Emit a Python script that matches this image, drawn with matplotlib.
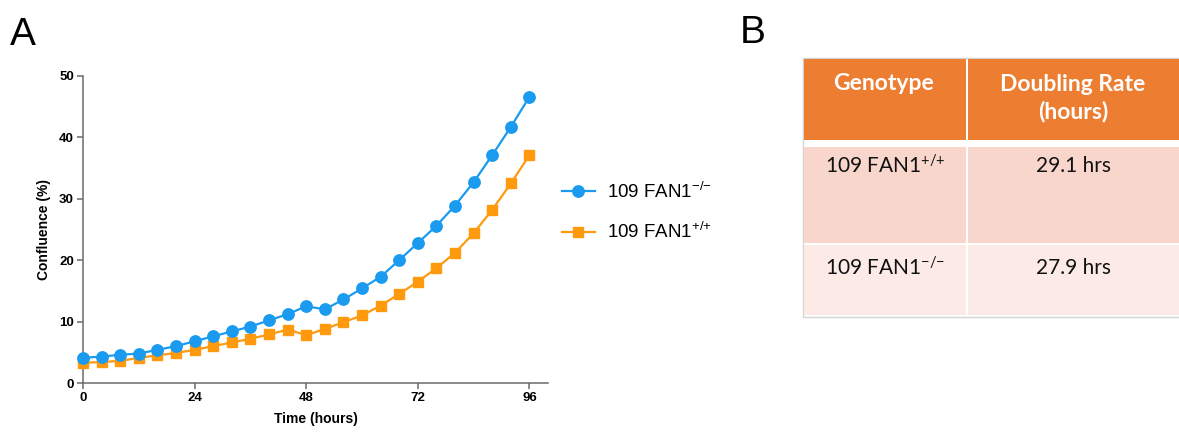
import matplotlib
matplotlib.use("Agg")
import matplotlib.pyplot as plt
from matplotlib.patches import Rectangle

plt.rcParams['font.family'] = ['Liberation Sans', 'DejaVu Sans']
plt.rcParams['mathtext.fontset'] = 'custom'
plt.rcParams['mathtext.rm'] = 'Liberation Sans'
plt.rcParams['mathtext.it'] = 'Liberation Sans:italic'
plt.rcParams['mathtext.bf'] = 'Liberation Sans:bold'

# ---- data ----
time_hours = [0, 4, 8, 12, 16, 20, 24, 28, 32, 36, 40, 44, 48, 52, 56, 60, 64, 68, 72, 76, 80, 84, 88, 92, 96]
ko_confluence = [4.1, 4.3, 4.6, 4.8, 5.4, 6.0, 6.8, 7.6, 8.4, 9.2, 10.2, 11.2, 12.5, 12.0, 13.6,
                 15.4, 17.3, 20.0, 22.8, 25.6, 28.9, 32.7, 37.1, 41.7, 46.6]
wt_confluence = [3.3, 3.4, 3.6, 4.1, 4.5, 4.9, 5.4, 6.0, 6.6, 7.2, 7.9, 8.7, 7.8, 8.8, 9.9,
                 11.0, 12.6, 14.5, 16.5, 18.7, 21.2, 24.4, 28.2, 32.5, 37.1]
series_labels = ['109 FAN1$^{{-}/{-}}$', '109 FAN1$^{{+}/{+}}$']
x_ticks = [0, 24, 48, 72, 96]
y_ticks = [0, 10, 20, 30, 40, 50]

table_header = ['Genotype', 'Doubling Rate\n(hours)']
table_genotypes = ['109 FAN1$^{\\mathregular{{+}/{+}}}$', '109 FAN1$^{\\mathregular{{-}/{-}}}$']
table_doubling = ['29.1 hrs', '27.9 hrs']

BLUE = '#1B9BEF'
ORANGE = '#FF9A0E'
SPINE = '#6b6b6b'

W, H = 1179, 434
fig = plt.figure(figsize=(W / 100, H / 100), dpi=100)

# ---- panel A ----
ax = fig.add_axes([83 / W, 1 - 383 / H, (548 - 83) / W, (383 - 76) / H])
ax.plot(time_hours, ko_confluence, '-o', color=BLUE, lw=1.6, ms=8.2,
        mec=BLUE, label=series_labels[0], clip_on=False, zorder=4)
ax.plot(time_hours, wt_confluence, '-s', color=ORANGE, lw=1.6, ms=7.6,
        mec=ORANGE, label=series_labels[1], clip_on=False, zorder=3)
ax.set_xlim(0, 100)
ax.set_ylim(0, 50)
ax.set_xticks(x_ticks)
ax.set_yticks(y_ticks)
for s in ['top', 'right']:
    ax.spines[s].set_visible(False)
for s in ['left', 'bottom']:
    ax.spines[s].set_color(SPINE)
    ax.spines[s].set_linewidth(1.1)
ax.tick_params(direction='out', length=4.5, width=1.1, color=SPINE,
               labelsize=9.5, pad=2)
for lab in ax.get_xticklabels() + ax.get_yticklabels():
    lab.set_fontweight('bold')
ax.set_xlabel('Time (hours)', fontsize=10, fontweight='bold', labelpad=6)
ax.set_ylabel('Confluence (%)', fontsize=10, fontweight='bold', labelpad=6)

leg = ax.legend(loc='center left', bbox_to_anchor=(562 / W, 1 - 212 / H),
                bbox_transform=fig.transFigure, frameon=False, fontsize=13.5,
                handlelength=1.75, handletextpad=0.65, labelspacing=1.1,
                borderaxespad=0, borderpad=0)

fig.text(10 / W, 1 - 45 / H, 'A', fontsize=28, ha='left', va='baseline')
fig.text(740 / W, 1 - 43 / H, 'B', fontsize=28, ha='left', va='baseline')

# ---- panel B (table) ----
tx = fig.add_axes([0, 0, 1, 1])
tx.set_xlim(0, W)
tx.set_ylim(H, 0)
tx.axis('off')
tx.add_patch(Rectangle((802.5, 57.5), 378, 259, fc='white', ec='#d4d4d4', lw=1))
HEAD = '#ED7D31'
R1 = '#F8D6CC'
R2 = '#FBEAE5'
col_x = [(804, 966), (968, 1179)]
rows_y = [(59, 140), (147, 243), (245, 315)]
fills = [HEAD, R1, R2]
for (y0, y1), fc in zip(rows_y, fills):
    for (x0, x1) in col_x:
        tx.add_patch(Rectangle((x0, y0), x1 - x0, y1 - y0, fc=fc, ec='none'))

tfont = ['Lato', 'DejaVu Sans']
tx.text(884, 83, table_header[0], ha='center', va='center', color='white',
        fontsize=16.5, fontweight='bold', family=tfont)
tx.text(1073, 98, table_header[1], ha='center', va='center', color='white',
        fontsize=16.5, fontweight='bold', family=tfont, linespacing=1.3)
row_text_y = [166, 268]
for i in range(2):
    tx.text(885, row_text_y[i], table_genotypes[i], ha='center', va='center',
            color='#111111', fontsize=15, family=tfont)
    tx.text(1073, row_text_y[i], table_doubling[i], ha='center', va='center',
            color='#111111', fontsize=15, family=tfont)

fig.savefig('out.png', dpi=100)
